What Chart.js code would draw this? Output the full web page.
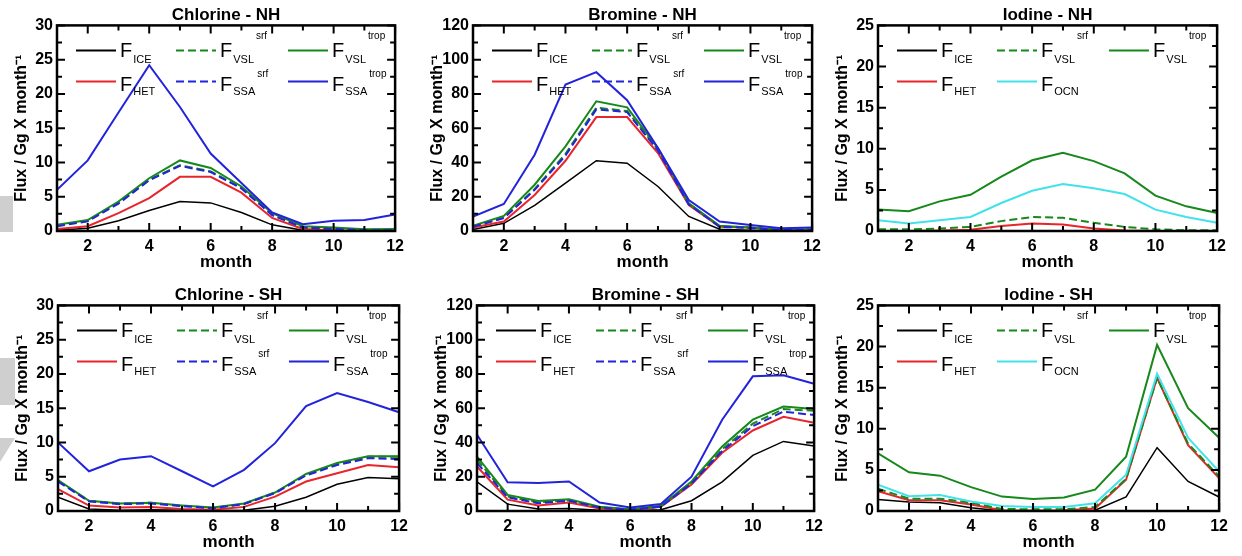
<!DOCTYPE html>
<html>
<head>
<meta charset="utf-8">
<script src="https://cdn.jsdelivr.net/npm/chart.js@4.4.0/dist/chart.umd.min.js"></script>
<style>
  body { margin: 0; background: #fff; width: 1242px; height: 556px; position: relative; overflow: hidden; }
  canvas { position: absolute; }
  .smudge { position: absolute; background: #cfcfcf; }
</style>
</head>
<body>
<div class="smudge" style="left:0;top:196px;width:13px;height:36px"></div>
<div class="smudge" style="left:0;top:358px;width:15px;height:47px"></div>
<div class="smudge" style="left:0;top:438px;width:15px;height:24px;clip-path:polygon(0 0,100% 0,0 100%)"></div>
<script>
// ---- data ----
const months = [1, 2, 3, 4, 5, 6, 7, 8, 9, 10, 11, 12];
const xTicks = [2, 4, 6, 8, 10, 12];
const clTicks = [0, 5, 10, 15, 20, 25, 30];
const brTicks = [0, 20, 40, 60, 80, 100, 120];
const iTicks = [0, 5, 10, 15, 20, 25];

// Chlorine - NH
const clNH_ice     = [0.1, 0.4, 1.5, 3.0, 4.3, 4.1, 2.7, 0.9, 0.1, 0, 0, 0];
const clNH_het     = [0.3, 0.7, 2.6, 4.8, 7.9, 7.9, 5.6, 1.9, 0.3, 0.1, 0.05, 0.05];
const clNH_vslSrf  = [0.8, 1.5, 4.1, 7.5, 9.6, 8.7, 6.3, 2.4, 0.5, 0.3, 0.15, 0.15];
const clNH_vslTrop = [0.9, 1.6, 4.3, 7.7, 10.3, 9.2, 6.5, 2.6, 0.7, 0.5, 0.25, 0.3];
const clNH_ssaSrf  = [0.7, 1.4, 4.0, 7.4, 9.5, 8.6, 6.2, 2.3, 0.5, 0.3, 0.1, 0.1];
const clNH_ssaTrop = [6.0, 10.3, 17.3, 24.2, 18.1, 11.3, 7.0, 2.7, 1.0, 1.5, 1.6, 2.4];

// Bromine - NH
const brNH_ice     = [0.8, 4.5, 15, 28, 41, 39.6, 26, 8.5, 1, 0.5, 0, 0];
const brNH_het     = [2.1, 5.5, 21, 41, 66.5, 66.5, 45.5, 15.2, 2.5, 2, 0.6, 0.6];
const brNH_vslSrf  = [2.7, 7.8, 24.5, 45, 72, 70, 47.5, 15.8, 2.7, 1.9, 0.6, 0.9];
const brNH_vslTrop = [3, 8.8, 27, 49.4, 75.7, 72.2, 48.4, 16.2, 3, 2, 0.6, 1];
const brNH_ssaSrf  = [2.5, 7.5, 24, 44, 71, 69.4, 47, 15.5, 2.5, 1.8, 0.5, 0.8];
const brNH_ssaTrop = [8.4, 15.8, 44.5, 85.5, 92.7, 76.3, 48.4, 18.1, 5.5, 3.5, 1.6, 2];

// Iodine - NH
const iNH_ice     = [0, 0, 0, 0, 0, 0, 0, 0, 0, 0, 0, 0];
const iNH_het     = [0, 0, 0.05, 0.15, 0.6, 0.9, 0.8, 0.3, 0.05, 0, 0, 0];
const iNH_vslSrf  = [0.2, 0.2, 0.3, 0.5, 1.2, 1.7, 1.6, 1.0, 0.5, 0.2, 0.1, 0.1];
const iNH_vslTrop = [2.6, 2.4, 3.6, 4.4, 6.6, 8.6, 9.5, 8.5, 7.0, 4.3, 3.0, 2.2];
const iNH_ocn     = [1.3, 0.9, 1.3, 1.7, 3.4, 4.9, 5.7, 5.2, 4.5, 2.6, 1.7, 1.0];

// Chlorine - SH
const clSH_ice     = [2.0, 0.3, 0.1, 0.2, 0.1, 0.05, 0.1, 0.7, 2.0, 3.9, 4.9, 4.7];
const clSH_het     = [3.2, 0.8, 0.5, 0.6, 0.3, 0.2, 0.6, 2.1, 4.3, 5.5, 6.7, 6.4];
const clSH_vslSrf  = [4.4, 1.5, 1.1, 1.2, 0.75, 0.45, 1.05, 2.7, 5.3, 6.9, 7.9, 7.9];
const clSH_vslTrop = [4.5, 1.5, 1.1, 1.2, 0.8, 0.5, 1.1, 2.7, 5.4, 7.0, 8.0, 8.0];
const clSH_ssaSrf  = [4.3, 1.4, 1.0, 1.1, 0.7, 0.4, 1.0, 2.6, 5.2, 6.7, 7.7, 7.6];
const clSH_ssaTrop = [10.0, 5.8, 7.5, 8.0, 5.8, 3.6, 6.0, 9.9, 15.3, 17.2, 15.9, 14.4];

// Bromine - SH
const brSH_ice     = [17, 4, 1.2, 1.5, 0.5, 0.2, 0.8, 6, 17, 32.5, 40.6, 38];
const brSH_het     = [26, 6.6, 3.2, 5, 1.5, 0.5, 2.5, 15.5, 34, 47, 55, 51.5];
const brSH_vslSrf  = [30, 8.5, 5, 6.2, 2.1, 0.9, 2.7, 16.5, 36, 51, 59.5, 58.5];
const brSH_vslTrop = [31.8, 9.4, 5.9, 6.8, 2.5, 1, 3, 17.2, 37.7, 53.3, 61, 59.5];
const brSH_ssaSrf  = [28, 8, 4.5, 6, 2, 0.8, 2.5, 16, 35, 49.5, 58, 56];
const brSH_ssaTrop = [44.5, 16.8, 16.4, 17.2, 4.9, 2, 4.1, 20, 53.3, 78.6, 79.2, 74.3];

// Iodine - SH
const iSH_ice     = [1.4, 1.1, 1.0, 0.4, 0, 0, 0, 0.1, 1.7, 7.7, 3.6, 1.7];
const iSH_het     = [2.4, 1.3, 1.3, 0.8, 0.1, 0.05, 0.1, 0.3, 3.8, 16.2, 8.0, 4.0];
const iSH_vslSrf  = [2.7, 1.5, 1.5, 1.0, 0.25, 0.2, 0.2, 0.5, 3.9, 16.2, 8.2, 4.2];
const iSH_vslTrop = [7.0, 4.7, 4.3, 2.9, 1.75, 1.45, 1.65, 2.6, 6.6, 20.2, 12.5, 8.9];
const iSH_ocn     = [3.2, 1.8, 1.95, 1.15, 0.6, 0.5, 0.5, 0.95, 4.4, 16.7, 8.9, 4.8];

// ---- styles ----
const FONT = "'Liberation Sans', Arial, sans-serif";
const GREEN = '#17881b', RED = '#e8252b', BLUE = '#2323dc', CYAN = '#42e2ea';

// legend slot (col/row) + look of each flux term
const STYLE = {
  ice:     { sub: 'ICE', sup: '',     color: '#000', dash: [],     col: 0, row: 0, w: 1.5 },
  vslSrf:  { sub: 'VSL', sup: 'srf',  color: GREEN,  dash: [8, 4], col: 1, row: 0, w: 2 },
  vslTrop: { sub: 'VSL', sup: 'trop', color: GREEN,  dash: [],     col: 2, row: 0, w: 2 },
  het:     { sub: 'HET', sup: '',     color: RED,    dash: [],     col: 0, row: 1, w: 2 },
  ssaSrf:  { sub: 'SSA', sup: 'srf',  color: BLUE,   dash: [8, 4], col: 1, row: 1, w: 2 },
  ssaTrop: { sub: 'SSA', sup: 'trop', color: BLUE,   dash: [],     col: 2, row: 1, w: 2 },
  ocn:     { sub: 'OCN', sup: '',     color: CYAN,   dash: [],     col: 1, row: 1, w: 2 }
};
const LEG_COL = [19, 119, 231];
const LEG_ROW = [25, 56];
// text offsets from the sample line, per legend row (as in the figure)
const LEG_F = [7, 10], LEG_SUB = [13, 14], LEG_SUP = [-11, -4];

const panels = [
  { title: 'Chlorine - NH', ticks: clTicks, left: 57, top: 25, w: 341,
    series: [['ice', clNH_ice], ['het', clNH_het], ['vslSrf', clNH_vslSrf], ['vslTrop', clNH_vslTrop], ['ssaSrf', clNH_ssaSrf], ['ssaTrop', clNH_ssaTrop]] },
  { title: 'Bromine - NH', ticks: brTicks, left: 473, top: 25, w: 342,
    series: [['ice', brNH_ice], ['het', brNH_het], ['vslSrf', brNH_vslSrf], ['vslTrop', brNH_vslTrop], ['ssaSrf', brNH_ssaSrf], ['ssaTrop', brNH_ssaTrop]] },
  { title: 'Iodine - NH', ticks: iTicks, left: 878, top: 25, w: 342,
    series: [['ice', iNH_ice], ['het', iNH_het], ['vslSrf', iNH_vslSrf], ['vslTrop', iNH_vslTrop], ['ocn', iNH_ocn]] },
  { title: 'Chlorine - SH', ticks: clTicks, left: 58, top: 305, w: 344,
    series: [['ice', clSH_ice], ['het', clSH_het], ['vslSrf', clSH_vslSrf], ['vslTrop', clSH_vslTrop], ['ssaSrf', clSH_ssaSrf], ['ssaTrop', clSH_ssaTrop]] },
  { title: 'Bromine - SH', ticks: brTicks, left: 477, top: 305, w: 340,
    series: [['ice', brSH_ice], ['het', brSH_het], ['vslSrf', brSH_vslSrf], ['vslTrop', brSH_vslTrop], ['ssaSrf', brSH_ssaSrf], ['ssaTrop', brSH_ssaTrop]] },
  { title: 'Iodine - SH', ticks: iTicks, left: 878, top: 305, w: 344,
    series: [['ice', iSH_ice], ['het', iSH_het], ['vslSrf', iSH_vslSrf], ['vslTrop', iSH_vslTrop], ['ocn', iSH_ocn]] }
];

// box + inward ticks on all four sides
const framePlugin = {
  id: 'frame',
  afterDatasetsDraw(chart) {
    const { ctx, chartArea: a, scales: { x, y } } = chart;
    ctx.save();
    ctx.strokeStyle = '#000';
    ctx.lineWidth = 2;
    const xMaj = x.ticks.map(t => t.value);
    const yMaj = y.ticks.map(t => t.value);
    const xMin = xMaj.slice(0, -1).map((v, i) => (v + xMaj[i + 1]) / 2);
    const yMin = yMaj.slice(0, -1).map((v, i) => (v + yMaj[i + 1]) / 2);
    ctx.beginPath();
    [[xMaj, 8], [xMin, 5]].forEach(([vals, len]) => vals.forEach(v => {
      const px = x.getPixelForValue(v);
      ctx.moveTo(px, a.bottom); ctx.lineTo(px, a.bottom - len);
      ctx.moveTo(px, a.top); ctx.lineTo(px, a.top + len);
    }));
    [[yMaj, 8], [yMin, 5]].forEach(([vals, len]) => vals.forEach(v => {
      const py = y.getPixelForValue(v);
      ctx.moveTo(a.left, py); ctx.lineTo(a.left + len, py);
      ctx.moveTo(a.right, py); ctx.lineTo(a.right - len, py);
    }));
    ctx.stroke();
    ctx.lineWidth = 2.5;
    ctx.strokeRect(a.left, a.top, a.right - a.left, a.bottom - a.top);
    ctx.restore();
  }
};

// legend with F + subscript + superscript
const fluxLegend = {
  id: 'fluxLegend',
  afterDatasetsDraw(chart) {
    const { ctx, chartArea: a } = chart;
    chart.data.datasets.forEach(ds => {
      const lx = a.left + LEG_COL[ds.col];
      const ly = a.top + LEG_ROW[ds.row];
      ctx.save();
      ctx.strokeStyle = ds.borderColor;
      ctx.lineWidth = 2;
      ctx.setLineDash(ds.borderDash);
      ctx.beginPath();
      ctx.moveTo(lx, ly); ctx.lineTo(lx + 40, ly);
      ctx.stroke();
      ctx.fillStyle = '#000';
      ctx.textBaseline = 'alphabetic';
      let tx = lx + 44;
      ctx.font = '20px ' + FONT;
      ctx.fillText('F', tx, ly + LEG_F[ds.row]);
      tx += ctx.measureText('F').width + 1;
      ctx.font = '11px ' + FONT;
      ctx.fillText(ds.sub, tx, ly + LEG_SUB[ds.row]);
      tx += ctx.measureText(ds.sub).width + 2;
      if (ds.sup) {
        ctx.font = '10px ' + FONT;
        ctx.fillText(ds.sup, tx, ly + LEG_SUP[ds.row]);
      }
      ctx.restore();
    });
  }
};

Chart.defaults.font.family = FONT;
Chart.defaults.color = '#000';

panels.forEach(p => {
  const cv = document.createElement('canvas');
  const cw = 57 + p.w + 12, ch = 276;
  cv.width = cw; cv.height = ch;
  cv.style.left = (p.left - 57) + 'px';
  cv.style.top = (p.top - 25) + 'px';
  document.body.appendChild(cv);

  const datasets = p.series.map(([key, vals], i) => {
    const s = STYLE[key];
    return {
      label: 'F_' + s.sub + (s.sup ? '^' + s.sup : ''),
      data: vals.map((v, j) => ({ x: months[j], y: v })),
      borderColor: s.color,
      borderWidth: s.w,
      borderDash: s.dash,
      pointRadius: 0,
      tension: 0,
      order: -i,
      sub: s.sub, sup: s.sup, col: s.col, row: s.row
    };
  });

  new Chart(cv, {
    type: 'line',
    data: { datasets },
    plugins: [framePlugin, fluxLegend],
    options: {
      responsive: false,
      animation: false,
      events: [],
      layout: { padding: { left: 0, right: 12, top: 0, bottom: 0 } },
      plugins: {
        legend: { display: false },
        tooltip: { enabled: false },
        title: {
          display: true, text: p.title, fullSize: false,
          font: { size: 17, weight: 'bold' }, color: '#000',
          padding: { top: 5, bottom: 0 }
        }
      },
      scales: {
        x: {
          type: 'linear', min: 1, max: 12,
          afterBuildTicks: s => { s.ticks = xTicks.map(v => ({ value: v })); },
          afterFit: s => { s.height = 45; },
          grid: { display: false, drawTicks: false },
          border: { display: false },
          ticks: { font: { size: 16, weight: 'bold' }, padding: 6, maxRotation: 0 },
          title: { display: true, text: 'month', font: { size: 17, weight: 'bold' }, padding: { top: 0, bottom: 3 } }
        },
        y: {
          type: 'linear', min: 0, max: p.ticks[p.ticks.length - 1],
          afterBuildTicks: s => { s.ticks = p.ticks.map(v => ({ value: v })); },
          afterFit: s => { s.width = 57; },
          grid: { display: false, drawTicks: false },
          border: { display: false },
          ticks: { font: { size: 16, weight: 'bold' }, padding: 4 },
          title: { display: true, text: 'Flux / Gg X month⁻¹', font: { size: 16, weight: 'bold' }, padding: { top: 12, bottom: 0 } }
        }
      }
    }
  });
});
</script>
</body>
</html>
